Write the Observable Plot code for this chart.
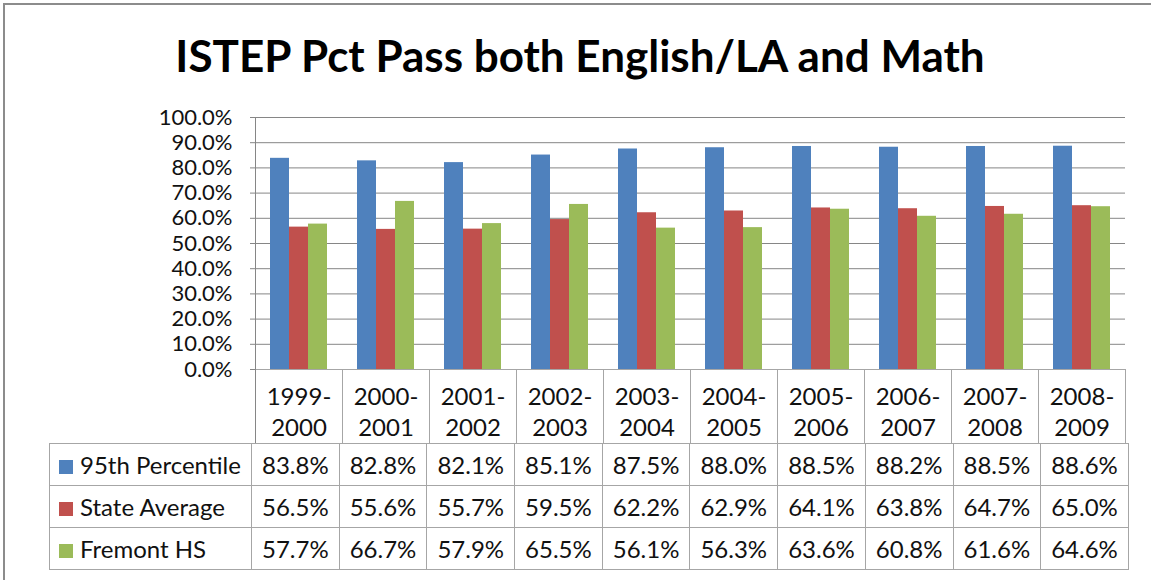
<!DOCTYPE html>
<html>
<head>
<meta charset="utf-8">
<script src="https://cdn.jsdelivr.net/npm/d3@7"></script>
<script src="https://cdn.jsdelivr.net/npm/@observablehq/plot@0.6"></script>
<style>
  html, body { margin: 0; padding: 0; background: #fff; overflow: hidden; }
  body { width: 1151px; height: 580px; position: relative; font-family: Lato, sans-serif; color: #111; }
  #frame { position: absolute; left: 3px; top: 3px; width: 1200px; height: 700px; border: 2px solid #8c8c8c; box-sizing: border-box; }
  #title { position: absolute; left: 0; top: 33px; width: 1160px; height: 44px; line-height: 44px; text-align: center; font-weight: bold; font-size: 44px; color: #000; white-space: nowrap; }
  #chart { position: absolute; left: 0; top: 100px; }
  #table { position: absolute; left: 49px; top: 443px; border-collapse: collapse; table-layout: fixed; font-size: 24px; }
  #table td { border: 1px solid #a6a6a6; padding: 0; height: 41px; text-align: center; white-space: nowrap; }
  #table td.lab { text-align: left; }
  .sw { display: inline-block; width: 14px; height: 14px; margin-left: 9px; margin-right: 7px; vertical-align: 0px; }
</style>
</head>
<body>
<div id="frame"></div>
<div id="title">ISTEP Pct Pass both English/LA and Math</div>
<div id="chart"></div>
<table id="table"></table>
<script>
const years = ["1999-2000","2000-2001","2001-2002","2002-2003","2003-2004","2004-2005","2005-2006","2006-2007","2007-2008","2008-2009"];
const seriesNames = ["95th Percentile","State Average","Fremont HS"];
const pct95 = [0.838,0.828,0.821,0.851,0.875,0.880,0.885,0.882,0.885,0.886];
const stateAvg = [0.565,0.556,0.557,0.595,0.622,0.629,0.641,0.638,0.647,0.650];
const fremont = [0.577,0.667,0.579,0.655,0.561,0.563,0.636,0.608,0.616,0.646];
const colors = ["#4F81BD","#C0504D","#9BBB59"];
const yTicks = [0,0.1,0.2,0.3,0.4,0.5,0.6,0.7,0.8,0.9,1.0];

const seriesValues = [pct95, stateAvg, fremont];
const data = years.flatMap((yr, i) => seriesNames.map((s, j) => ({year: yr, series: s, value: seriesValues[j][i]})));
const fmt = d3.format(".1%");

const W = 1151, H = 343, mT = 17, mB = 74, mL = 251, mR = 23;
const plotH = H - mT - mB;

const chart = Plot.plot({
  width: W, height: H,
  marginTop: mT, marginBottom: mB, marginLeft: mL, marginRight: mR,
  style: {fontFamily: "Lato, sans-serif", fontSize: "24px", color: "#111", background: "transparent", overflow: "visible"},
  fx: {domain: years, padding: 0, axis: null, label: null},
  x: {domain: seriesNames, paddingInner: 0, paddingOuter: 0.75, axis: null},
  y: {domain: [0, 1], axis: null, label: null},
  color: {domain: seriesNames, range: colors},
  marks: [
    Plot.gridY(yTicks, {stroke: "#868686", strokeOpacity: 1}),
    Plot.frame({insetTop: plotH, insetBottom: -mB, stroke: "#a6a6a6"}),
    Plot.frame({anchor: "left", facetAnchor: "left", insetBottom: -mB, stroke: "#868686"}),
    Plot.barY(data, {fx: "year", x: "series", y: "value", fill: "series"}),
    Plot.axisY(yTicks, {tickSize: 5, tickPadding: 18, tickFormat: fmt, stroke: "#868686", fill: "#111", fontSize: 22, label: null}),
    Plot.axisFx({anchor: "bottom", tickSize: 0, tickPadding: 14, lineHeight: 1.28, tickFormat: d => d.replace("-", "-\n"), label: null, fill: "#111"})
  ]
});
document.getElementById("chart").appendChild(chart);

// data table rows (legend + values)
const table = document.getElementById("table");
const colgroup = document.createElement("colgroup");
const c0 = document.createElement("col"); c0.style.width = "202px"; colgroup.appendChild(c0);
years.forEach(() => { const c = document.createElement("col"); c.style.width = ((W - mL - mR) / years.length) + "px"; colgroup.appendChild(c); });
table.appendChild(colgroup);
seriesNames.forEach((s, j) => {
  const tr = document.createElement("tr");
  const lab = document.createElement("td");
  lab.className = "lab";
  const sw = document.createElement("span");
  sw.className = "sw"; sw.style.background = colors[j];
  lab.appendChild(sw);
  lab.appendChild(document.createTextNode(s));
  tr.appendChild(lab);
  seriesValues[j].forEach(v => {
    const td = document.createElement("td");
    td.textContent = fmt(v);
    tr.appendChild(td);
  });
  table.appendChild(tr);
});
</script>
</body>
</html>
